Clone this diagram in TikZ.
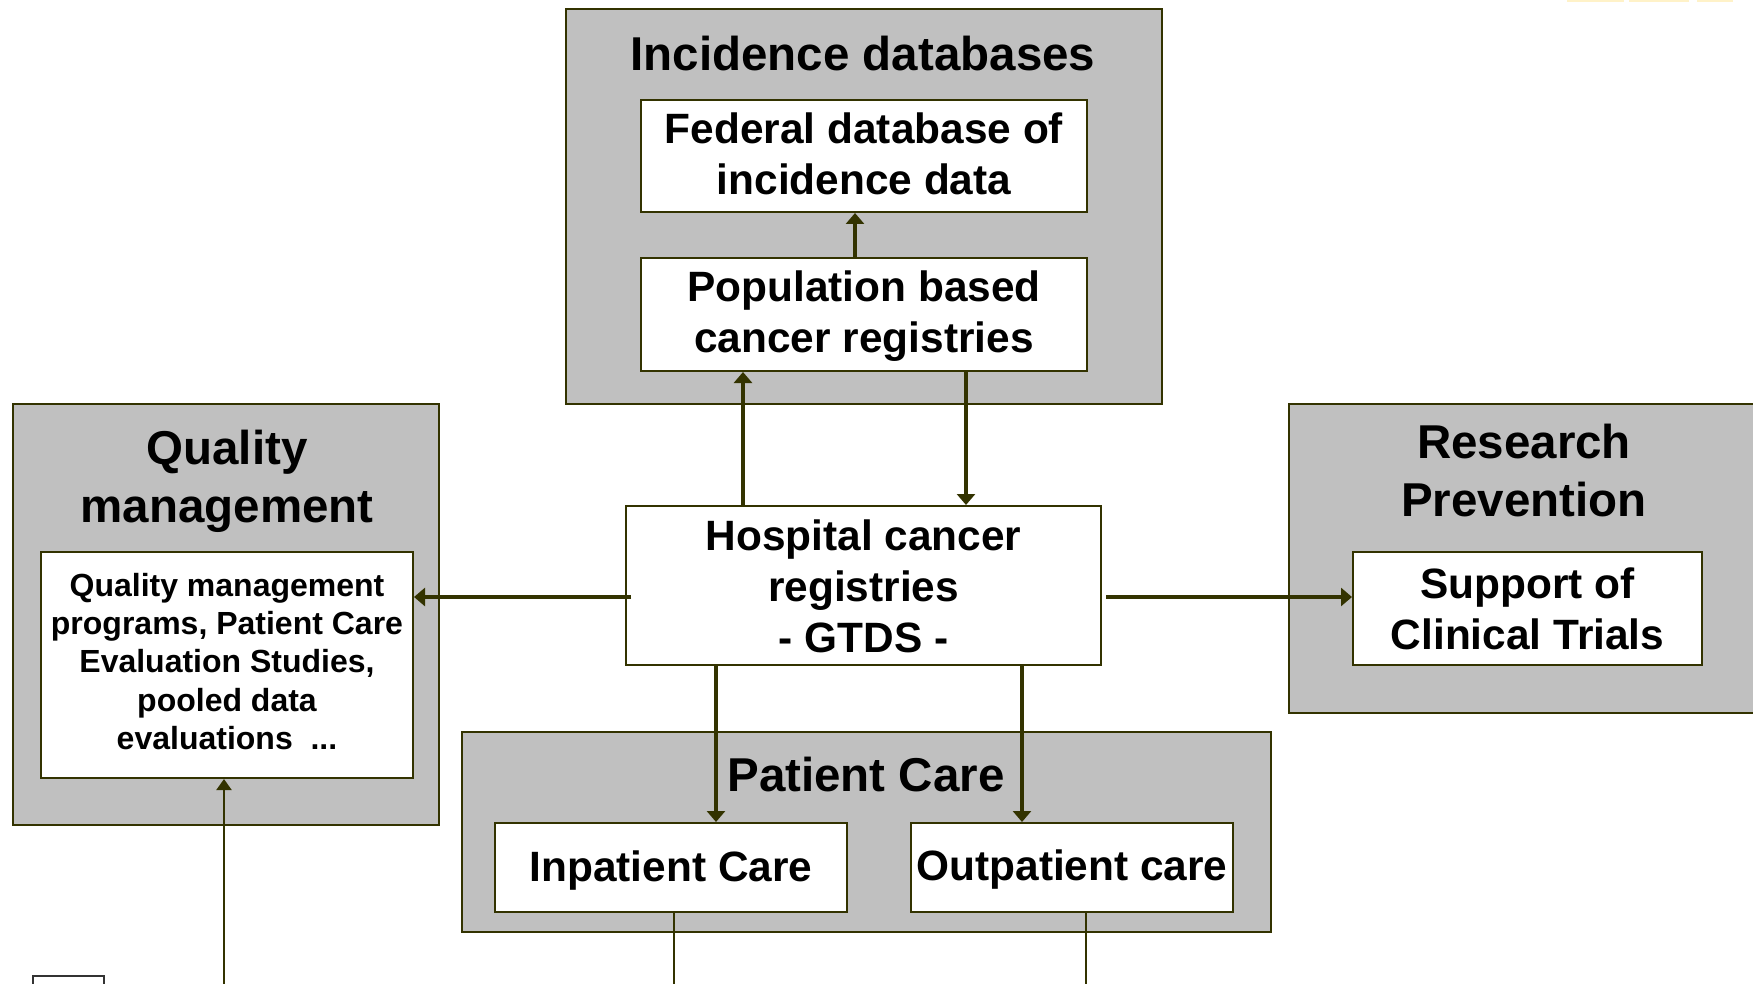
\documentclass[tikz,border=0pt]{standalone}
\usepackage{fontspec}
\setmainfont{Liberation Sans}
\usetikzlibrary{arrows.meta}
\definecolor{olv}{RGB}{51,51,0}
\definecolor{grayfill}{RGB}{192,192,192}
\definecolor{ylw}{RGB}{255,242,200}
\tikzset{
  outerbox/.style={draw=olv, line width=2pt, fill=grayfill, inner sep=0pt, rectangle},
  innerbox/.style={draw=olv, line width=2pt, fill=white, inner sep=0pt, rectangle},
  boxtext/.style={inner sep=0pt, align=center, font=\fontsize{42.4}{51}\selectfont\bfseries},
  smalltext/.style={inner sep=0pt, align=center, font=\fontsize{32}{38.4}\selectfont\bfseries},
  titletext/.style={inner sep=0pt, align=center, font=\fontsize{47.5}{58}\selectfont\bfseries},
  arr/.style={draw=olv, line width=4.6pt, -{Triangle[width=18pt,length=11pt]}},
  thinarr/.style={draw=olv, line width=2pt, -{Triangle[width=15pt,length=11pt]}},
  thinline/.style={draw=olv, line width=2pt},
}
\begin{document}
\begin{tikzpicture}[x=1pt,y=-1pt]
\useasboundingbox (0,0) rectangle (1753,984);
\clip (0,0) rectangle (1753,984);
% faint top-right bars
\fill[ylw] (1567,0) rectangle (1624,2);
\fill[ylw] (1629,0) rectangle (1689,2.5);
\fill[ylw] (1697,0) rectangle (1733,2);

% outer grey boxes
\node[outerbox, minimum width=596pt, minimum height=395pt] (incid) at (864,206.5) {};
\node[outerbox, minimum width=426pt, minimum height=421pt] (qual) at (226,614.5) {};
\node[outerbox, minimum width=476pt, minimum height=309pt] (res) at (1527,558.5) {};
\node[outerbox, minimum width=809pt, minimum height=200pt] (pat) at (866.5,832) {};

% titles
\node[titletext] (tincid) at (863,54) {Incidence databases};
\node[titletext] (tqual) at (227,481) {Quality\\management};
\node[titletext] (tres) at (1524,471) {Research\\Prevention};
\node[titletext] (tpat) at (866,775) {Patient Care};

% inner boxes
\node[innerbox, minimum width=446pt, minimum height=112pt] (fed) at (864,156) {};
\node[innerbox, minimum width=446pt, minimum height=113pt] (pop) at (864,314.5) {};
\node[innerbox, minimum width=475pt, minimum height=159pt] (hosp) at (863.5,585.5) {};
\node[innerbox, minimum width=372pt, minimum height=226pt] (qualin) at (227,665) {};
\node[innerbox, minimum width=349pt, minimum height=113pt] (sup) at (1527.5,608.5) {};
\node[innerbox, minimum width=352pt, minimum height=89pt] (inpat) at (671,867.5) {};
\node[innerbox, minimum width=322pt, minimum height=89pt] (outpat) at (1072,867.5) {};

% texts of inner boxes
\node[boxtext] (tfed) at ([yshift=2pt]fed.center) {Federal database of\\incidence data};
\node[boxtext] (tpop) at ([yshift=-1.5pt]pop.center) {Population based\\cancer registries};
\node[boxtext] (thosp) at ([yshift=-1pt]hosp.center) {Hospital cancer\\registries\\- GTDS -};
\node[smalltext] (tqualin) at ([yshift=3.5pt]qualin.center)
  {Quality management\\programs, Patient Care\\Evaluation Studies,\\pooled data\\evaluations\ \ ...};
\node[boxtext] (tsup) at (sup.center) {Support of\\Clinical Trials};
\node[boxtext] (tinpat) at ([yshift=-3pt]inpat.center) {Inpatient Care};
\node[boxtext] (toutpat) at ([yshift=-2pt]outpat.center) {Outpatient care};

% small box bottom left
\node[draw=black!80, line width=1.5pt, fill=white, inner sep=0pt, minimum width=71pt, minimum height=24pt] (small) at (68.5,988) {};

% helper coordinates
\coordinate (x855) at (855,0);
\coordinate (x743) at (743,0);
\coordinate (x966) at (966,0);
\coordinate (x716) at (716,0);
\coordinate (x1022) at (1022,0);
\coordinate (x674) at (674,0);
\coordinate (x1086) at (1086,0);
\coordinate (x224) at (224,0);
\coordinate (y597) at (0,597);
\coordinate (bot674) at (674,992);
\coordinate (bot1086) at (1086,992);
\coordinate (bot224) at (224,992);
\coordinate (hl) at (631,597);
\coordinate (hr) at (1106,597);

% connectors
\draw[arr] (pop.north -| x855) -- (fed.south -| x855);
\draw[arr] (hosp.north -| x743) -- (pop.south -| x743);
\draw[arr] (pop.south -| x966) -- (hosp.north -| x966);
\draw[arr] (hl) -- (qualin.east |- y597);
\draw[arr] (hr) -- (sup.west |- y597);
\draw[arr] (hosp.south -| x716) -- (inpat.north -| x716);
\draw[arr] (hosp.south -| x1022) -- (outpat.north -| x1022);
\draw[thinline] (inpat.south -| x674) -- (bot674);
\draw[thinline] (outpat.south -| x1086) -- (bot1086);
\draw[thinarr] (bot224) -- (qualin.south -| x224);
\end{tikzpicture}
\end{document}
